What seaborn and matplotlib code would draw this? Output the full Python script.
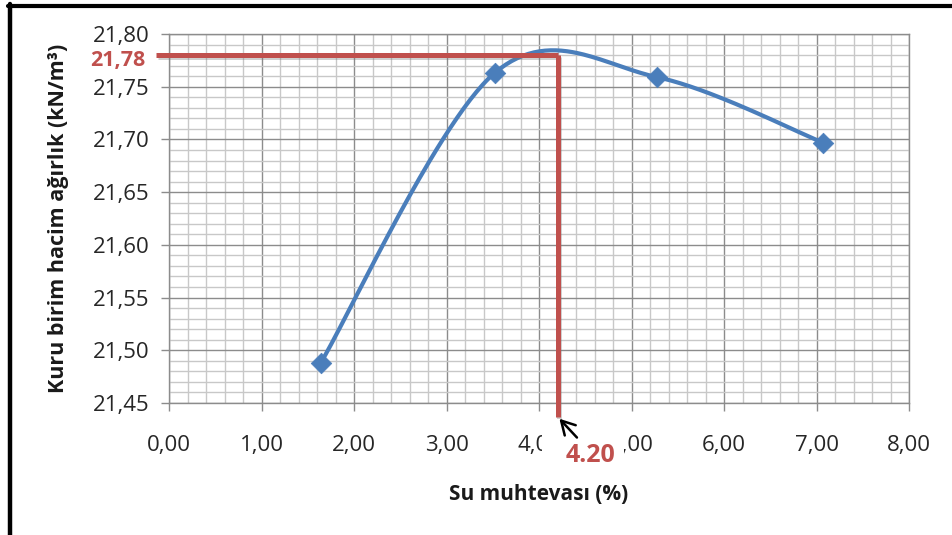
import numpy as np
import matplotlib
matplotlib.use("Agg")
import matplotlib.pyplot as plt
import matplotlib.patheffects as pe
from matplotlib.patches import Rectangle
from matplotlib.lines import Line2D
import seaborn as sns
import pandas as pd

# Compaction test results
water_content = [1.64, 3.52, 5.28, 7.07]          # Su muhtevası (%)
dry_unit_weight = [21.488, 21.763, 21.759, 21.697]  # kN/m3

# Optimum values
opt_water = 4.20
max_dry_weight = 21.78

x_ticks = [0, 1, 2, 3, 4, 5, 6, 7, 8]
y_ticks = [21.45, 21.50, 21.55, 21.60, 21.65, 21.70, 21.75, 21.80]

x_label = "Su muhtevası (%)"
y_label = "Kuru birim hacim ağırlık (kN/m³)"

BLUE = "#4A7EBB"
RED = "#C0504D"
FONT = ["Open Sans", "DejaVu Sans"]


def smooth_curve(xs, ys, n=60):
    """Cubic Bezier smoothing through every point (spreadsheet-style smoothed line)."""
    p = np.column_stack([xs, ys]).astype(float)
    ext = np.vstack([p[0], p, p[-1]])
    out = []
    t = np.linspace(0, 1, n)[:, None]
    for i in range(len(p) - 1):
        p0, p1 = ext[i + 1], ext[i + 2]
        c1 = p0 + (ext[i + 2] - ext[i]) / 6.0
        c2 = p1 - (ext[i + 3] - ext[i + 1]) / 6.0
        seg = ((1 - t) ** 3) * p0 + 3 * ((1 - t) ** 2) * t * c1 + 3 * (1 - t) * t ** 2 * c2 + t ** 3 * p1
        out.append(seg if i == 0 else seg[1:])
    return np.vstack(out)


sns.set_theme(style="white")
plt.rcParams["font.family"] = FONT

fig = plt.figure(figsize=(9.52, 5.35), dpi=100)
ax = fig.add_axes([169 / 952, 1 - 403 / 535, 740 / 952, 369 / 535])

curve = smooth_curve(water_content, dry_unit_weight)
curve_df = pd.DataFrame({"w": curve[:, 0], "g": curve[:, 1]})
points_df = pd.DataFrame({"w": water_content, "g": dry_unit_weight})

sns.lineplot(data=curve_df, x="w", y="g", sort=False, color=BLUE, lw=3.0,
             ax=ax, zorder=4, estimator=None)
sns.scatterplot(data=points_df, x="w", y="g", marker="D", s=110, color=BLUE,
                edgecolor=BLUE, linewidth=0.5, ax=ax, zorder=5)

ax.set_xlim(0, 8)
ax.set_ylim(21.45, 21.80)
ax.set_xticks(x_ticks)
ax.set_yticks(y_ticks)
ax.set_xticks(np.arange(0, 8.01, 0.2), minor=True)
ax.set_yticks(np.arange(21.45, 21.8001, 0.01), minor=True)
ax.set_xticklabels([f"{v:.2f}".replace(".", ",") for v in x_ticks])
ax.set_yticklabels([f"{v:.2f}".replace(".", ",") for v in y_ticks])

ax.grid(which="minor", color="#C8C8C8", lw=1.0, zorder=0)
ax.grid(which="major", color="#8C8C8C", lw=1.0, zorder=1)
ax.set_axisbelow(True)
for s in ax.spines.values():
    s.set_color("#8C8C8C")
    s.set_linewidth(1.0)

ax.tick_params(which="major", direction="out", length=6, width=1.0, color="#8C8C8C",
               labelsize=16, labelcolor="#262626", left=True, bottom=True)
ax.tick_params(axis="y", which="major", pad=8)
ax.tick_params(axis="x", which="major", pad=17)
ax.tick_params(which="minor", length=0)

ax.set_xlabel(x_label, fontsize=15, fontweight="bold", color="#1a1a1a", labelpad=20)
ax.set_ylabel(y_label, fontsize=15.5, fontweight="bold", color="#1a1a1a", labelpad=17)

# Optimum water content / maximum dry unit weight guide lines
shadow = [pe.SimpleLineShadow(offset=(1.2, -1.5), alpha=0.35, shadow_color="#7a7a7a"),
          pe.Normal()]
x_left = -0.14
y_bottom = 21.437
ax.plot([x_left, opt_water], [max_dry_weight, max_dry_weight], color=RED, lw=3.6,
        clip_on=False, zorder=6, solid_capstyle="butt", path_effects=shadow)
ax.plot([opt_water, opt_water], [max_dry_weight, y_bottom], color=RED, lw=3.6,
        clip_on=False, zorder=6, solid_capstyle="butt", path_effects=shadow)

ax.annotate(f"{max_dry_weight:.2f}".replace(".", ","), xy=(0, max_dry_weight),
            xycoords="data", xytext=(-17, -4), textcoords="offset points",
            color=RED, fontsize=15.5, fontweight="bold", ha="right", va="center",
            zorder=7, annotation_clip=False)

# white patch under the optimum label
fig.canvas.draw()
px, py = ax.transData.transform((opt_water, y_bottom))
ax.add_patch(Rectangle((px - 16, py - 52), 82, 50, transform=None,
                       facecolor="white", edgecolor="none", zorder=7, clip_on=False))

ax.annotate(f"{opt_water:.2f}", xy=(opt_water, y_bottom), xycoords="data",
            xytext=(24, -28), textcoords="offset points", color=RED,
            fontsize=18, fontweight="bold", ha="center", va="center",
            annotation_clip=False, zorder=8)
ax.annotate("", xy=(opt_water, y_bottom), xycoords="data",
            xytext=(14, -15), textcoords="offset points",
            arrowprops=dict(arrowstyle="->,head_length=0.8,head_width=0.45",
                            color="black", lw=1.8, shrinkA=0, shrinkB=2),
            annotation_clip=False, zorder=8)

# frame edges of the chart box
W, H = fig.bbox.width, fig.bbox.height
fig.add_artist(Line2D([8 / W, 1.0], [1 - 5.5 / H, 1 - 5.5 / H], color="black", lw=3.0,
                      transform=fig.transFigure))
fig.add_artist(Line2D([9.5 / W, 9.5 / W], [0, 1 - 4 / H], color="black", lw=3.2,
                      transform=fig.transFigure))

fig.savefig("out.png", dpi=100)
